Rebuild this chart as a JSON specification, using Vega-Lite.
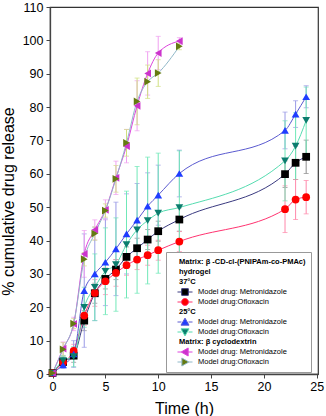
{
  "$schema": "https://vega.github.io/schema/vega-lite/v6.json",
  "width": 268,
  "height": 367,
  "autosize": {"type": "none"},
  "padding": {"left": 50, "top": 7, "right": 8, "bottom": 42},
  "config": {
    "font": "Liberation Sans",
    "view": {"stroke": "#333333", "strokeWidth": 1.2},
    "axis": {"grid": false, "domainColor": "#444444", "domainWidth": 1.3, "tickColor": "#444444", "tickSize": 4, "labelColor": "#000000", "titleColor": "#000000", "titleFontWeight": "normal", "labelFont": "Liberation Sans", "titleFont": "Liberation Sans"},
    "legend": {"title": null, "orient": "none", "legendX": 116, "legendY": 245, "labelFontSize": 7.5, "labelFont": "Liberation Sans", "symbolSize": 49, "symbolStrokeWidth": 1, "symbolOpacity": 1, "symbolOffset": 0, "rowPadding": 0, "clipHeight": 10, "padding": 5, "fillColor": "#ffffff", "strokeColor": "#999999", "labelLimit": 240}
  },
  "datasets": {
    "release": [
      {"series": "37°C Model drug: Metronidazole", "t": 0, "v": 0.3, "err": 0.5},
      {"series": "37°C Model drug: Metronidazole", "t": 1, "v": 3.6, "err": 1.5},
      {"series": "37°C Model drug: Metronidazole", "t": 2, "v": 5.5, "err": 2},
      {"series": "37°C Model drug: Metronidazole", "t": 3, "v": 16, "err": 3},
      {"series": "37°C Model drug: Metronidazole", "t": 4, "v": 24.2, "err": 3},
      {"series": "37°C Model drug: Metronidazole", "t": 5, "v": 28.5, "err": 3},
      {"series": "37°C Model drug: Metronidazole", "t": 6, "v": 31.3, "err": 3},
      {"series": "37°C Model drug: Metronidazole", "t": 7, "v": 35.1, "err": 3},
      {"series": "37°C Model drug: Metronidazole", "t": 8, "v": 37.7, "err": 3},
      {"series": "37°C Model drug: Metronidazole", "t": 9, "v": 40.3, "err": 3},
      {"series": "37°C Model drug: Metronidazole", "t": 10, "v": 42.8, "err": 3},
      {"series": "37°C Model drug: Metronidazole", "t": 12, "v": 46.3, "err": 3.5},
      {"series": "37°C Model drug: Metronidazole", "t": 22, "v": 59.9, "err": 4},
      {"series": "37°C Model drug: Metronidazole", "t": 23, "v": 63.3, "err": 5},
      {"series": "37°C Model drug: Metronidazole", "t": 24, "v": 65.1, "err": 5},
      {"series": "37°C Model drug:Ofloxacin", "t": 0, "v": 0.3, "err": 0.5},
      {"series": "37°C Model drug:Ofloxacin", "t": 1, "v": 3.5, "err": 1},
      {"series": "37°C Model drug:Ofloxacin", "t": 2, "v": 6.9, "err": 2},
      {"series": "37°C Model drug:Ofloxacin", "t": 3, "v": 17.5, "err": 3},
      {"series": "37°C Model drug:Ofloxacin", "t": 4, "v": 24.3, "err": 4},
      {"series": "37°C Model drug:Ofloxacin", "t": 5, "v": 27.8, "err": 4},
      {"series": "37°C Model drug:Ofloxacin", "t": 6, "v": 30.3, "err": 4},
      {"series": "37°C Model drug:Ofloxacin", "t": 7, "v": 32.6, "err": 3},
      {"series": "37°C Model drug:Ofloxacin", "t": 8, "v": 34.3, "err": 3},
      {"series": "37°C Model drug:Ofloxacin", "t": 9, "v": 35.6, "err": 3},
      {"series": "37°C Model drug:Ofloxacin", "t": 10, "v": 37.1, "err": 3},
      {"series": "37°C Model drug:Ofloxacin", "t": 12, "v": 39.7, "err": 3},
      {"series": "37°C Model drug:Ofloxacin", "t": 22, "v": 49.4, "err": 7},
      {"series": "37°C Model drug:Ofloxacin", "t": 23, "v": 52.3, "err": 6},
      {"series": "37°C Model drug:Ofloxacin", "t": 24, "v": 53, "err": 5},
      {"series": "25°C Model drug: Metronidazole", "t": 0, "v": 0.3, "err": 0.5},
      {"series": "25°C Model drug: Metronidazole", "t": 1, "v": 2.7, "err": 1},
      {"series": "25°C Model drug: Metronidazole", "t": 2, "v": 6, "err": 4},
      {"series": "25°C Model drug: Metronidazole", "t": 3, "v": 25, "err": 17},
      {"series": "25°C Model drug: Metronidazole", "t": 4, "v": 30, "err": 14},
      {"series": "25°C Model drug: Metronidazole", "t": 5, "v": 33.5, "err": 13},
      {"series": "25°C Model drug: Metronidazole", "t": 6, "v": 37.5, "err": 14},
      {"series": "25°C Model drug: Metronidazole", "t": 7, "v": 42, "err": 12},
      {"series": "25°C Model drug: Metronidazole", "t": 8, "v": 46.1, "err": 11},
      {"series": "25°C Model drug: Metronidazole", "t": 9, "v": 50.3, "err": 10},
      {"series": "25°C Model drug: Metronidazole", "t": 10, "v": 53.6, "err": 9},
      {"series": "25°C Model drug: Metronidazole", "t": 12, "v": 60.1, "err": 7},
      {"series": "25°C Model drug: Metronidazole", "t": 22, "v": 73, "err": 5.5},
      {"series": "25°C Model drug: Metronidazole", "t": 23, "v": 77.9, "err": 4},
      {"series": "25°C Model drug: Metronidazole", "t": 24, "v": 83.1, "err": 3.3},
      {"series": "25°C Model drug:Ofloxacin", "t": 0, "v": 0.3, "err": 0.5},
      {"series": "25°C Model drug:Ofloxacin", "t": 1, "v": 4, "err": 1.5},
      {"series": "25°C Model drug:Ofloxacin", "t": 2, "v": 5.2, "err": 3},
      {"series": "25°C Model drug:Ofloxacin", "t": 3, "v": 20, "err": 6},
      {"series": "25°C Model drug:Ofloxacin", "t": 4, "v": 26, "err": 10},
      {"series": "25°C Model drug:Ofloxacin", "t": 5, "v": 30.8, "err": 13},
      {"series": "25°C Model drug:Ofloxacin", "t": 6, "v": 32.8, "err": 14},
      {"series": "25°C Model drug:Ofloxacin", "t": 7, "v": 38.8, "err": 16},
      {"series": "25°C Model drug:Ofloxacin", "t": 8, "v": 43.2, "err": 19},
      {"series": "25°C Model drug:Ofloxacin", "t": 9, "v": 46, "err": 19},
      {"series": "25°C Model drug:Ofloxacin", "t": 10, "v": 48.2, "err": 18},
      {"series": "25°C Model drug:Ofloxacin", "t": 12, "v": 49.9, "err": 17},
      {"series": "25°C Model drug:Ofloxacin", "t": 22, "v": 63.9, "err": 12},
      {"series": "25°C Model drug:Ofloxacin", "t": 23, "v": 68.3, "err": 10},
      {"series": "25°C Model drug:Ofloxacin", "t": 24, "v": 76, "err": 10},
      {"series": "β-CD Model drug: Metronidazole", "t": 0, "v": 0.3, "err": 0.5},
      {"series": "β-CD Model drug: Metronidazole", "t": 1, "v": 7.6, "err": 2},
      {"series": "β-CD Model drug: Metronidazole", "t": 2, "v": 15, "err": 2},
      {"series": "β-CD Model drug: Metronidazole", "t": 3, "v": 36, "err": 7},
      {"series": "β-CD Model drug: Metronidazole", "t": 4, "v": 43.2, "err": 3},
      {"series": "β-CD Model drug: Metronidazole", "t": 5, "v": 49.2, "err": 3},
      {"series": "β-CD Model drug: Metronidazole", "t": 6, "v": 58.8, "err": 5},
      {"series": "β-CD Model drug: Metronidazole", "t": 7, "v": 68.3, "err": 5},
      {"series": "β-CD Model drug: Metronidazole", "t": 8, "v": 80.4, "err": 7.5},
      {"series": "β-CD Model drug: Metronidazole", "t": 9, "v": 90.1, "err": 6.5},
      {"series": "β-CD Model drug: Metronidazole", "t": 10, "v": 96.2, "err": 5},
      {"series": "β-CD Model drug: Metronidazole", "t": 12, "v": 99.8, "err": 1},
      {"series": "β-CD Model drug:Ofloxacin", "t": 0, "v": 0.3, "err": 0.5},
      {"series": "β-CD Model drug:Ofloxacin", "t": 1, "v": 7.4, "err": 2},
      {"series": "β-CD Model drug:Ofloxacin", "t": 2, "v": 15.1, "err": 1.5},
      {"series": "β-CD Model drug:Ofloxacin", "t": 3, "v": 34.4, "err": 2},
      {"series": "β-CD Model drug:Ofloxacin", "t": 4, "v": 42.1, "err": 2},
      {"series": "β-CD Model drug:Ofloxacin", "t": 5, "v": 49, "err": 2},
      {"series": "β-CD Model drug:Ofloxacin", "t": 6, "v": 58.5, "err": 4},
      {"series": "β-CD Model drug:Ofloxacin", "t": 7, "v": 69.3, "err": 4},
      {"series": "β-CD Model drug:Ofloxacin", "t": 8, "v": 81.7, "err": 7},
      {"series": "β-CD Model drug:Ofloxacin", "t": 9, "v": 87.6, "err": 5},
      {"series": "β-CD Model drug:Ofloxacin", "t": 10, "v": 90.2, "err": 4},
      {"series": "β-CD Model drug:Ofloxacin", "t": 12, "v": 98.2, "err": 1}
    ]
  },
  "data": {"name": "release"},
  "encoding": {
    "x": {"field": "t", "type": "quantitative", "scale": {"domain": [-0.24, 25.12], "nice": false, "zero": false},
      "axis": {"title": "Time (h)", "values": [0, 5, 10, 15, 20, 25], "labelFontSize": 12.5, "titleFontSize": 16, "labelPadding": 2, "titlePadding": 8}},
    "y": {"field": "v", "type": "quantitative", "scale": {"domain": [0, 110], "nice": false},
      "axis": {"title": "% cumulative drug release", "values": [0, 10, 20, 30, 40, 50, 60, 70, 80, 90, 100, 110], "labelFontSize": 12.5, "titleFontSize": 16, "labelPadding": 3, "titlePadding": 6, "titleY": 194}}
  },
  "layer": [
    {
      "mark": {"type": "errorbar", "ticks": true, "thickness": 1},
      "encoding": {
        "yError": {"field": "err"},
        "color": {"field": "series", "type": "nominal", "legend": null,
          "scale": {"domain": ["37°C Model drug: Metronidazole", "37°C Model drug:Ofloxacin", "25°C Model drug: Metronidazole", "25°C Model drug:Ofloxacin", "β-CD Model drug: Metronidazole", "β-CD Model drug:Ofloxacin"],
            "range": ["#8c8c8c", "#ff88aa", "#9a9ae6", "#70e8b8", "#f0a0f0", "#d0e080"]}}
      }
    },
    {
      "mark": {"type": "line", "interpolate": "monotone", "strokeWidth": 1},
      "encoding": {
        "color": {"field": "series", "type": "nominal", "legend": null,
          "scale": {"domain": ["37°C Model drug: Metronidazole", "37°C Model drug:Ofloxacin", "25°C Model drug: Metronidazole", "25°C Model drug:Ofloxacin", "β-CD Model drug: Metronidazole", "β-CD Model drug:Ofloxacin"],
            "range": ["#3a3a80", "#ff3370", "#5a5ad0", "#55dcb0", "#dd44dd", "#90b8c8"]}}
      }
    },
    {
      "mark": {"type": "point", "filled": true, "opacity": 1, "size": 60},
      "encoding": {
        "color": {"field": "series", "type": "nominal", "legend": null,
          "scale": {"domain": ["37°C Model drug: Metronidazole", "37°C Model drug:Ofloxacin", "25°C Model drug: Metronidazole", "25°C Model drug:Ofloxacin", "β-CD Model drug: Metronidazole", "β-CD Model drug:Ofloxacin"],
            "range": ["#000000", "#ff0000", "#1f3dff", "#0b7d6e", "#cc33cc", "#647a10"]}},
        "shape": {"field": "series", "type": "nominal", "legend": null,
          "scale": {"domain": ["37°C Model drug: Metronidazole", "37°C Model drug:Ofloxacin", "25°C Model drug: Metronidazole", "25°C Model drug:Ofloxacin", "β-CD Model drug: Metronidazole", "β-CD Model drug:Ofloxacin"],
            "range": ["square", "circle", "triangle-up", "triangle-down", "triangle-left", "triangle-right"]}}
      }
    },
    {
      "transform": [{"filter": "datum.t < -5"}],
      "mark": {"type": "point", "filled": true, "strokeWidth": 1, "opacity": 1},
      "encoding": {
        "fill": {"field": "series", "type": "nominal",
          "scale": {"domain": ["Matrix: β -CD-cl-(PNIPAm-co-PMAc)", "hydrogel", "37°C", "37°C Model drug: Metronidazole", "37°C Model drug:Ofloxacin", "25°C", "25°C Model drug: Metronidazole", "25°C Model drug:Ofloxacin", "Matrix: β cyclodextrin", "β-CD Model drug: Metronidazole", "β-CD Model drug:Ofloxacin"],
            "range": ["transparent", "transparent", "transparent", "#000000", "#ff0000", "transparent", "#1f3dff", "#0b7d6e", "transparent", "#cc33cc", "#647a10"]},
          "legend": {
            "labelExpr": "indexof(datum.label, 'Model drug') >= 0 ? substring(datum.label, indexof(datum.label, 'Model drug')) : datum.label",
            "labelFontWeight": {"expr": "indexof(datum.label, 'Model drug') < 0 ? 'bold' : 'normal'"},
            "labelOffset": {"expr": "indexof(datum.label, 'Model drug') < 0 ? 0 : 19"}}},
        "stroke": {"field": "series", "type": "nominal",
          "scale": {"domain": ["Matrix: β -CD-cl-(PNIPAm-co-PMAc)", "hydrogel", "37°C", "37°C Model drug: Metronidazole", "37°C Model drug:Ofloxacin", "25°C", "25°C Model drug: Metronidazole", "25°C Model drug:Ofloxacin", "Matrix: β cyclodextrin", "β-CD Model drug: Metronidazole", "β-CD Model drug:Ofloxacin"],
            "range": ["transparent", "transparent", "transparent", "#3a3a80", "#ff3370", "transparent", "#5a5ad0", "#55dcb0", "transparent", "#dd44dd", "#90b8c8"]},
          "legend": {
            "labelExpr": "indexof(datum.label, 'Model drug') >= 0 ? substring(datum.label, indexof(datum.label, 'Model drug')) : datum.label",
            "labelFontWeight": {"expr": "indexof(datum.label, 'Model drug') < 0 ? 'bold' : 'normal'"},
            "labelOffset": {"expr": "indexof(datum.label, 'Model drug') < 0 ? 0 : 19"}}},
        "shape": {"field": "series", "type": "nominal",
          "scale": {"domain": ["Matrix: β -CD-cl-(PNIPAm-co-PMAc)", "hydrogel", "37°C", "37°C Model drug: Metronidazole", "37°C Model drug:Ofloxacin", "25°C", "25°C Model drug: Metronidazole", "25°C Model drug:Ofloxacin", "Matrix: β cyclodextrin", "β-CD Model drug: Metronidazole", "β-CD Model drug:Ofloxacin"],
            "range": ["M0,0L0,0", "M0,0L0,0", "M0,0L0,0",
              "M0.71,0H1.91M3.81,0H5.0M1.91,-0.95H3.81V0.95H1.91Z",
              "M0.71,0H1.86M3.86,0H5.0M1.86,0A1,1 0 1,0 3.86,0A1,1 0 1,0 1.86,0Z",
              "M0,0L0,0",
              "M0.71,0H1.86M3.86,0H5.0M2.86,-1.1L4.01,0.9H1.71Z",
              "M0.71,0H1.86M3.86,0H5.0M2.86,1.1L4.01,-0.9H1.71Z",
              "M0,0L0,0",
              "M0.71,0H1.76M3.76,0H5.0M1.76,0L3.76,-1.15V1.15Z",
              "M0.71,0H1.96M3.96,0H5.0M3.96,0L1.96,-1.15V1.15Z"]},
          "legend": {
            "labelExpr": "indexof(datum.label, 'Model drug') >= 0 ? substring(datum.label, indexof(datum.label, 'Model drug')) : datum.label",
            "labelFontWeight": {"expr": "indexof(datum.label, 'Model drug') < 0 ? 'bold' : 'normal'"},
            "labelOffset": {"expr": "indexof(datum.label, 'Model drug') < 0 ? 0 : 19"}}}
      }
    },
    {
      "data": {"values": [{}]},
      "mark": {"type": "rule", "color": "#999999", "strokeWidth": 1.5},
      "encoding": {"x": {"datum": 2}, "y": {"datum": 0}, "y2": {"datum": 105.6}}
    },
    {
      "data": {"values": [{}]},
      "mark": {"type": "text", "text": ["pH", "1.2"], "align": "left", "baseline": "top", "fontSize": 8.5, "lineHeight": 17, "color": "#000000"},
      "encoding": {"x": {"datum": 0.4}, "y": {"datum": 108.5}}
    },
    {
      "data": {"values": [{}]},
      "mark": {"type": "text", "text": ["pH", "7.4"], "align": "left", "baseline": "top", "fontSize": 8.5, "lineHeight": 17, "color": "#000000"},
      "encoding": {"x": {"datum": 2.4}, "y": {"datum": 108.3}}
    }
  ],
  "resolve": {"scale": {"color": "independent", "shape": "independent", "fill": "independent", "stroke": "independent"}}
}
